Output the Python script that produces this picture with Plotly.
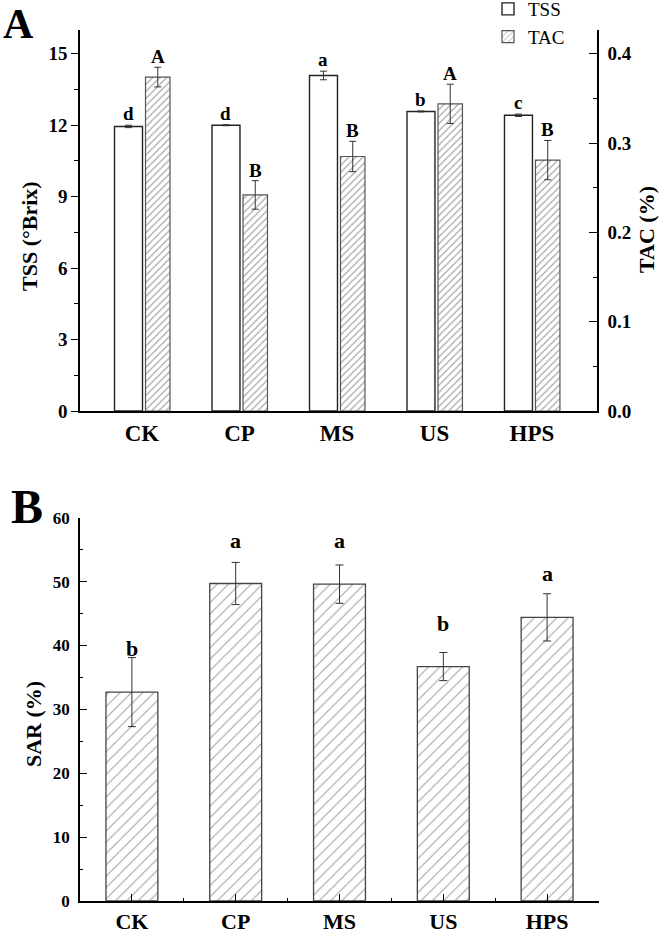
import plotly.graph_objects as go

# ---------------- data ----------------
categories = ["CK", "CP", "MS", "US", "HPS"]

tss = [11.95, 12.00, 14.09, 12.58, 12.42]
tss_err = [0.05, 0.02, 0.18, 0.02, 0.05]
tss_letters = ["d", "d", "a", "b", "c"]

tac = [0.374, 0.242, 0.285, 0.344, 0.281]
tac_err = [0.011, 0.016, 0.017, 0.022, 0.022]
tac_letters = ["A", "B", "B", "A", "B"]

sar = [32.7, 49.7, 49.6, 36.7, 44.4]
sar_err = [5.4, 3.3, 3.0, 2.2, 3.7]
sar_letters = ["b", "a", "a", "b", "a"]

tss_ticks = [0, 3, 6, 9, 12, 15]
tac_ticks = [0.0, 0.1, 0.2, 0.3, 0.4]
sar_ticks = [0, 10, 20, 30, 40, 50, 60]

# ---------------- layout helpers ----------------
W, H = 661, 933
ML, MR, MT, MB = 80, 62, 30, 32
PW = W - ML - MR
PH = H - MT - MB


def px_x(p):
    return (p - ML) / PW


def px_y(p):
    return (H - MB - p) / PH


FONT = "Liberation Serif, Times New Roman, serif"
pos = list(range(len(categories)))

# top panel geometry (category units)
TOP_RANGE = [-0.636, 4.667]
TSS_OFF, TSS_W = -0.282, 0.287
TAC_OFF, TAC_W = 0.036, 0.251
tac_center = TAC_OFF + TAC_W / 2
tss_center = TSS_OFF + TSS_W / 2

fig = go.Figure()

fig.add_trace(go.Bar(
    name="TSS", x=pos, y=tss, offset=TSS_OFF, width=TSS_W,
    xaxis="x", yaxis="y",
    marker=dict(color="white", line=dict(color="#222", width=1.4)),
    error_y=dict(type="data", array=tss_err, color="#333", thickness=1, width=3.5),
))
fig.add_trace(go.Bar(
    name="TAC", x=pos, y=tac, offset=TAC_OFF, width=TAC_W,
    xaxis="x", yaxis="y2",
    marker=dict(color="white",
                pattern=dict(shape="/", fgcolor="#444", bgcolor="white", size=5, solidity=0.22),
                line=dict(color="#555", width=1.2)),
    error_y=dict(type="data", array=tac_err, color="#333", thickness=1, width=3.5),
))
fig.add_trace(go.Bar(
    name="SAR", x=pos, y=sar, width=0.5, showlegend=False,
    xaxis="x2", yaxis="y3",
    marker=dict(color="white",
                pattern=dict(shape="/", fgcolor="#444", bgcolor="white", size=8, solidity=0.14),
                line=dict(color="#444", width=1.3)),
    error_y=dict(type="data", array=sar_err, color="#333", thickness=1, width=4),
))

TOP_DOM = [px_y(411), 1.0]
BOT_DOM = [0.0, px_y(517.7)]
TOPX_DOM = [0.0, px_x(597)]

axis_common = dict(showgrid=False, zeroline=False, linecolor="black", linewidth=1.6,
                   tickcolor="black", tickwidth=1.3, automargin=False)

tick_font_top = dict(family=FONT, size=19, color="black", weight="bold")
tick_font_bot = dict(family=FONT, size=17, color="black", weight="bold")
cat_font = dict(family=FONT, size=23, color="black", weight="bold")
cat_font_bot = dict(family=FONT, size=22, color="black", weight="bold")

fig.update_layout(
    width=W, height=H,
    margin=dict(l=ML, r=MR, t=MT, b=MB, autoexpand=False),
    paper_bgcolor="white", plot_bgcolor="white",
    barmode="overlay",
    showlegend=True,
    legend=dict(x=px_x(488), y=px_y(-10), xanchor="left", yanchor="top",
                font=dict(family=FONT, size=19, color="black"),
                bgcolor="rgba(0,0,0,0)", itemwidth=30, tracegroupgap=0),
    xaxis=dict(**axis_common, domain=TOPX_DOM, anchor="y", range=TOP_RANGE,
               showline=True, tickmode="array", tickvals=pos, ticktext=categories,
               ticks="", tickfont=cat_font, ticklabelstandoff=1),
    xaxis3=dict(**axis_common, overlaying="x", anchor="y", range=TOP_RANGE,
                showline=False, showticklabels=False,
                tickmode="array", tickvals=[p + tac_center for p in pos],
                ticks="inside", ticklen=7,
                minor=dict(tickmode="array",
                           tickvals=[p + tac_center - 0.5 for p in pos] + [pos[-1] + tac_center + 0.5],
                           ticks="inside", ticklen=3.5, tickcolor="black", tickwidth=1.3)),
    yaxis=dict(**axis_common, domain=TOP_DOM, anchor="x", range=[0, 16],
               showline=True, tickmode="array", tickvals=tss_ticks,
               ticks="outside", ticklen=7, tickfont=tick_font_top,
               minor=dict(dtick=1.5, tick0=0, ticks="outside", ticklen=4,
                          tickcolor="black", tickwidth=1.3)),
    yaxis2=dict(**axis_common, overlaying="y", side="right", anchor="x",
                range=[0, 0.4267], showline=True, tickmode="array", tickvals=tac_ticks,
                tickformat=".1f", ticks="inside", ticklen=8, tickfont=tick_font_top,
                ticklabelstandoff=5,
                minor=dict(dtick=0.05, tick0=0, ticks="inside", ticklen=4,
                           tickcolor="black", tickwidth=1.3)),
    xaxis2=dict(**axis_common, domain=[0, 1], anchor="y3", range=[-0.5, 4.5],
                showline=True, tickmode="array", tickvals=pos, ticktext=categories,
                ticks="inside", ticklen=7, tickfont=cat_font_bot, ticklabelstandoff=0,
                minor=dict(tickmode="array", tickvals=[p + 0.5 for p in pos],
                           ticks="inside", ticklen=3.5, tickcolor="black", tickwidth=1.3)),
    yaxis3=dict(**axis_common, domain=BOT_DOM, anchor="x2", range=[0, 60],
                showline=True, tickmode="array", tickvals=sar_ticks,
                ticks="inside", ticklen=7, tickfont=tick_font_bot, ticklabelstandoff=5,
                minor=dict(dtick=5, tick0=0, ticks="inside", ticklen=3.5,
                           tickcolor="black", tickwidth=1.3)),
)

annotations = []
letter_font_top = dict(family=FONT, size=19, color="black", weight="bold")
letter_font_bot = dict(family=FONT, size=22, color="black", weight="bold")
for i, p in enumerate(pos):
    annotations.append(dict(x=p + tss_center, y=tss[i] + tss_err[i], xref="x", yref="y",
                            text=tss_letters[i], showarrow=False, yanchor="bottom",
                            yshift=-1, font=letter_font_top))
    annotations.append(dict(x=p + tac_center, y=tac[i] + tac_err[i], xref="x", yref="y2",
                            text=tac_letters[i], showarrow=False, yanchor="bottom",
                            yshift=-2, font=letter_font_top))
    annotations.append(dict(x=p, y=sar[i], xref="x2", yref="y3",
                            text=sar_letters[i], showarrow=False, yanchor="bottom",
                            yshift=29, font=letter_font_bot))

title_font = dict(family=FONT, size=22, color="black", weight="bold")
annotations += [
    dict(x=px_x(30), y=px_y(236), xref="paper", yref="paper", text="TSS (°Brix)",
         textangle=-90, showarrow=False, xanchor="center", yanchor="middle", font=title_font),
    dict(x=px_x(647), y=px_y(230), xref="paper", yref="paper", text="TAC (%)",
         textangle=-90, showarrow=False, xanchor="center", yanchor="middle", font=title_font),
    dict(x=px_x(33), y=px_y(724), xref="paper", yref="paper", text="SAR (%)",
         textangle=-90, showarrow=False, xanchor="center", yanchor="middle", font=title_font),
    dict(x=px_x(18), y=px_y(24), xref="paper", yref="paper", text="A",
         showarrow=False, xanchor="center", yanchor="middle",
         font=dict(family=FONT, size=42, color="black", weight="bold")),
    dict(x=px_x(27), y=px_y(506), xref="paper", yref="paper", text="B",
         showarrow=False, xanchor="center", yanchor="middle",
         font=dict(family=FONT, size=48, color="black", weight="bold")),
]
fig.update_layout(annotations=annotations)

fig.write_html("out.html", config={"displayModeBar": False},
               post_script="document.body.style.margin='0';")
